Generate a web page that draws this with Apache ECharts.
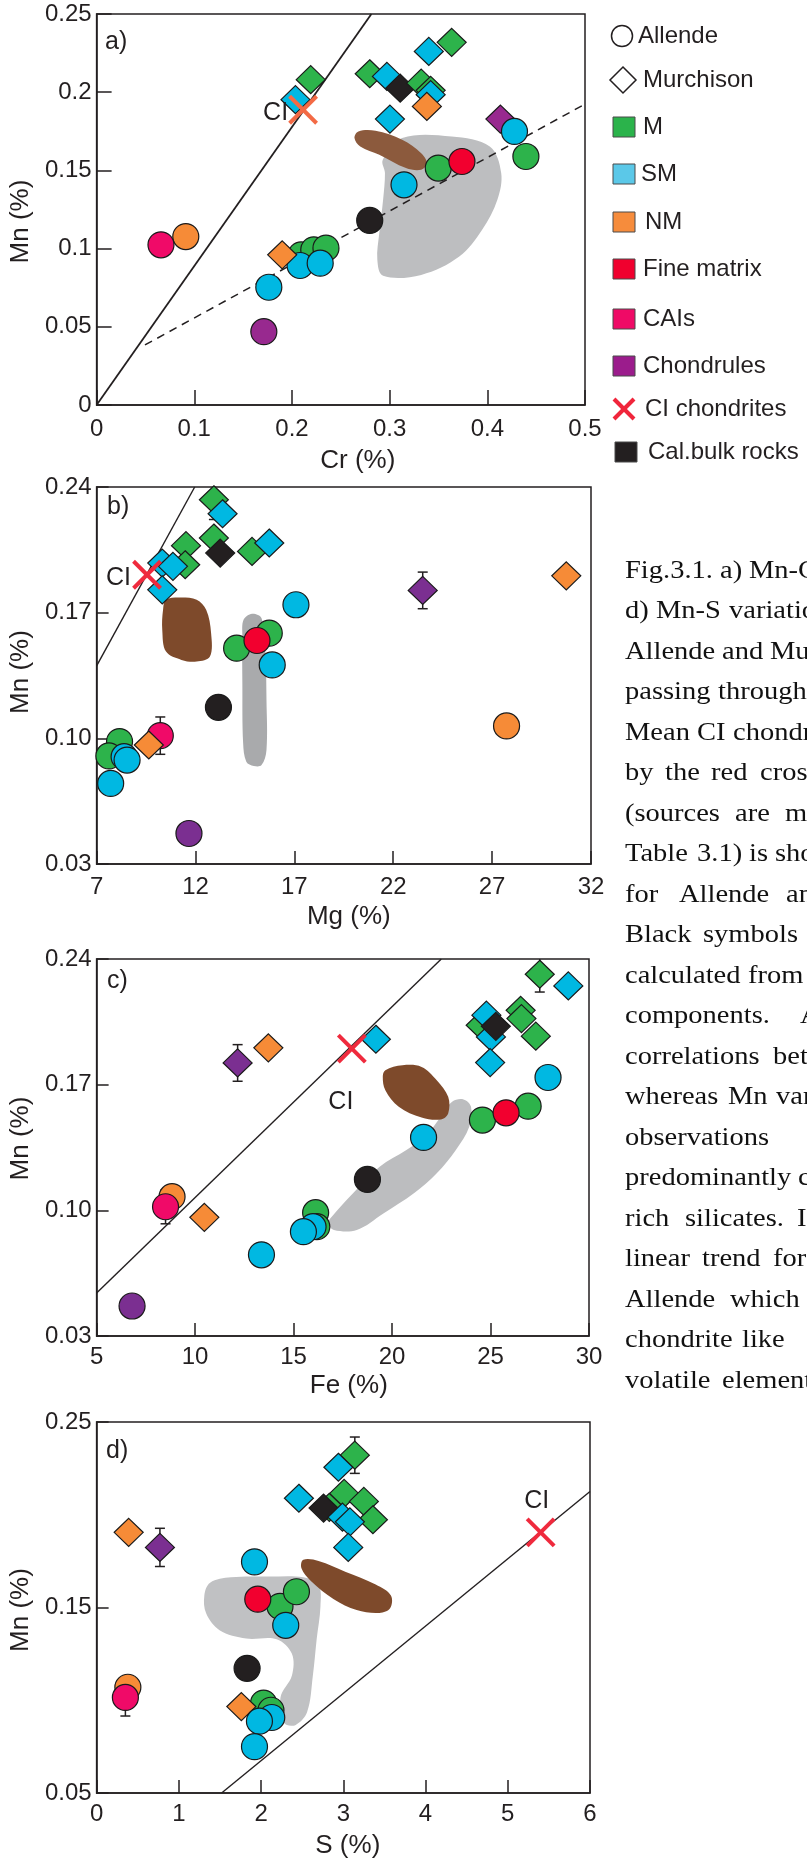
<!DOCTYPE html>
<html>
<head>
<meta charset="utf-8">
<script src="https://cdn.jsdelivr.net/npm/echarts@6/dist/echarts.min.js"></script>
<style>
  html, body { margin: 0; padding: 0; background: #ffffff; }
  #chart { width: 807px; height: 1861px; }
</style>
</head>
<body>
<div id="chart"></div>
<script>
// Point records: [meteorite, component, x, Mn %]
// meteorite: 'A' = Allende (circle), 'Mu' = Murchison (diamond)
// component: M, SM, NM, FM (fine matrix), CAI, CH (chondrules), BULK (calculated bulk rock)

const crMn = [
  ['Mu','SM',0.2036,0.1952], ['Mu','M',0.2192,0.2080], ['Mu','M',0.2796,0.2118],
  ['Mu','SM',0.2972,0.2101], ['Mu','BULK',0.3108,0.2026], ['Mu','M',0.3323,0.2058],
  ['Mu','M',0.3420,0.2012], ['Mu','SM',0.3420,0.1984], ['Mu','NM',0.3381,0.1909],
  ['Mu','SM',0.3401,0.2261], ['Mu','M',0.3635,0.2319], ['Mu','SM',0.3003,0.1828],
  ['Mu','CH',0.4134,0.1828],
  ['A','NM',0.0913,0.1077], ['A','CAI',0.0659,0.1024],
  ['A','M',0.2094,0.0960], ['A','M',0.2223,0.0992], ['A','M',0.2348,0.1003],
  ['A','SM',0.2083,0.0892], ['A','SM',0.2289,0.0907], ['Mu','NM',0.1900,0.0960],
  ['A','SM',0.1763,0.0753], ['A','CH',0.1712,0.0469], ['A','BULK',0.2796,0.1180],
  ['A','SM',0.3147,0.1408], ['A','M',0.3498,0.1515], ['A','FM',0.3740,0.1557],
  ['A','SM',0.4278,0.1749], ['A','M',0.4395,0.1589]
];

const mgMn = [
  ['Mu','M',12.93,0.2329], ['Mu','SM',13.37,0.2251], ['Mu','M',11.52,0.2073],
  ['Mu','M',12.93,0.2116], ['Mu','BULK',13.25,0.2032], ['Mu','M',14.86,0.2041],
  ['Mu','SM',15.73,0.2088], ['Mu','M',11.48,0.1967], ['Mu','SM',10.32,0.1976],
  ['Mu','SM',10.86,0.1958], ['Mu','SM',10.32,0.1827], ['Mu','CH',23.49,0.1824],
  ['Mu','NM',30.75,0.1905],
  ['A','SM',17.08,0.1744], ['A','M',15.73,0.1586], ['A','M',14.08,0.1502],
  ['A','FM',15.11,0.1545], ['A','SM',15.88,0.1409], ['A','BULK',13.16,0.1173],
  ['A','NM',27.73,0.1069], ['A','M',8.16,0.0982], ['A','M',7.62,0.0902],
  ['A','SM',8.39,0.0898], ['A','SM',8.54,0.0879], ['A','CAI',10.22,0.1015],
  ['Mu','NM',9.64,0.0963], ['A','SM',7.71,0.0749], ['A','CH',11.67,0.0470]
];

const feMn = [
  ['Mu','M',27.50,0.2315], ['Mu','SM',28.95,0.2250], ['Mu','M',24.50,0.2031],
  ['Mu','SM',24.79,0.2087], ['Mu','SM',25.02,0.1966], ['Mu','BULK',25.27,0.2025],
  ['Mu','M',26.53,0.2114], ['Mu','M',26.57,0.2068], ['Mu','M',27.30,0.1970],
  ['Mu','SM',24.98,0.1823], ['Mu','SM',19.18,0.1953], ['Mu','NM',13.72,0.1905],
  ['Mu','CH',12.16,0.1821],
  ['A','SM',27.92,0.1740], ['A','M',26.91,0.1580], ['A','M',24.59,0.1503],
  ['A','FM',25.79,0.1543], ['A','SM',21.60,0.1406], ['A','BULK',18.75,0.1172],
  ['A','NM',8.83,0.1076], ['A','CAI',8.50,0.1020], ['Mu','NM',10.47,0.0961],
  ['A','M',16.12,0.0987], ['A','M',16.18,0.0909], ['A','SM',15.99,0.0909],
  ['A','SM',15.50,0.0881], ['A','SM',13.37,0.0752], ['A','CH',6.80,0.0467]
];

const sMn = [
  ['Mu','M',3.14,0.2321], ['Mu','SM',2.94,0.2256], ['Mu','SM',2.46,0.2089],
  ['Mu','M',2.83,0.2040], ['Mu','BULK',2.76,0.2036], ['Mu','M',3.01,0.2115],
  ['Mu','M',3.25,0.2072], ['Mu','M',3.36,0.1973], ['Mu','SM',2.99,0.1987],
  ['Mu','SM',3.08,0.1962], ['Mu','SM',3.06,0.1824], ['Mu','NM',0.39,0.1905],
  ['Mu','CH',0.77,0.1824],
  ['A','SM',1.92,0.1746], ['A','M',2.23,0.1506], ['A','FM',1.96,0.1545],
  ['A','M',2.43,0.1585], ['A','SM',2.30,0.1404], ['A','BULK',1.83,0.1172],
  ['A','NM',0.38,0.1070], ['A','CAI',0.35,0.1015], ['A','M',2.03,0.0985],
  ['A','M',2.12,0.0946], ['Mu','NM',1.76,0.0966], ['A','SM',2.13,0.0907],
  ['A','SM',1.98,0.0887], ['A','SM',1.92,0.0750]
];

// Error bars: [x, Mn, half-range]
const mgErr = [[12.93,0.2329,0.0110], [23.49,0.1824,0.0102], [10.22,0.1015,0.0104]];
const feErr = [[27.50,0.2315,0.0099], [12.16,0.1821,0.0102], [8.50,0.1020,0.0095]];
const sErr  = [[3.14,0.2321,0.0098], [0.77,0.1824,0.0103], [0.35,0.1015,0.0100]];

// Mean CI chondrite
const ciCr = [0.2114, 0.1888];
const ciMg = [9.55, 0.1911];
const ciFe = [17.96, 0.1901];
const ciS  = [5.40, 0.1905];

// Reference lines (end points)
const crSolid  = [[0, 0], [0.2813, 0.25]];
const crDashed = [[0.0495, 0.0384], [0.5, 0.1924]];
const mgSolid  = [[7, 0.1404], [11.96, 0.24]];
const feSolid  = [[5, 0.054], [22.5, 0.24]];
const sSolid   = [[1.52, 0.05], [6, 0.2125]];

// Field outlines (grey and brown areas)
const crGray = [[0.293,0.1568],[0.3128,0.1707],[0.3635,0.1717],[0.4025,0.1653],[0.4142,0.1483],
  [0.4103,0.1312],[0.3947,0.112],[0.3713,0.0949],[0.3323,0.0832],[0.2933,0.0826],[0.2874,0.0928],
  [0.2894,0.1099],[0.2933,0.1312],[0.2952,0.1483]];
const crBrown = [[0.268,0.1749],[0.2855,0.1753],[0.3128,0.1696],[0.3323,0.161],[0.3381,0.1547],
  [0.3323,0.1504],[0.3167,0.1515],[0.2894,0.16],[0.2699,0.1653],[0.264,0.1707]];
const mgGray = [[14.43,0.166],[14.86,0.1694],[15.34,0.1669],[15.53,0.1493],[15.59,0.1214],
  [15.59,0.0935],[15.34,0.0851],[14.95,0.0846],[14.57,0.087],[14.41,0.0972],[14.37,0.1307],[14.37,0.1567]];
const mgBrown = [[10.51,0.1772],[11.29,0.1785],[12.06,0.1772],[12.54,0.1716],[12.79,0.1586],
  [12.73,0.1456],[12.06,0.1428],[11.29,0.1437],[10.51,0.1483],[10.32,0.1604],[10.36,0.1716]];
const feGray = [[16.95,0.0965],[18.02,0.1095],[19.37,0.1243],[20.73,0.1336],[21.69,0.141],
  [22.47,0.1521],[23.05,0.1605],[23.63,0.1618],[24.01,0.1577],[23.92,0.1465],[23.24,0.1336],
  [22.27,0.1206],[21.11,0.1095],[19.56,0.0983],[18.21,0.0891],[17.05,0.0891],[16.76,0.0928]];
const feBrown = [[19.66,0.1781],[20.53,0.1808],[21.5,0.1799],[22.27,0.1725],[22.85,0.1632],
  [22.85,0.154],[22.47,0.1506],[21.5,0.1517],[20.34,0.1577],[19.66,0.1669],[19.53,0.1744]];
const sGray = [[1.31,0.1565],[1.38,0.1634],[1.634,0.1663],[2.097,0.1667],[2.514,0.1663],
  [2.699,0.1624],[2.722,0.1506],[2.676,0.1329],[2.63,0.1133],[2.56,0.0936],[2.421,0.0867],
  [2.282,0.0877],[2.236,0.1015],[2.375,0.1133],[2.375,0.1251],[2.19,0.1329],[1.819,0.1333],
  [1.495,0.1378],[1.333,0.1467]];
const sBrown = [[2.514,0.1757],[2.699,0.1751],[3.023,0.1693],[3.394,0.1624],[3.579,0.1565],
  [3.569,0.1496],[3.44,0.1471],[3.162,0.1486],[2.884,0.1545],[2.606,0.1643],[2.491,0.1712]];

// Axis scales
const crTicks = {min: 0, max: 0.5, interval: 0.1};
const mgTicks = {min: 7, max: 32, interval: 5};
const feTicks = {min: 5, max: 30, interval: 5};
const sTicks  = {min: 0, max: 6, interval: 1};
const mnTicksA = {min: 0, max: 0.25, interval: 0.05};
const mnTicksBC = {min: 0.03, max: 0.24, interval: 0.07};
const mnTicksD = {min: 0.05, max: 0.25, interval: 0.1};

const INK = '#231f20';
const SANS = '"Liberation Sans", Arial, sans-serif';
const SERIF = '"Liberation Serif", "Times New Roman", serif';

const COLORS = {M: '#2db34b', SM: '#00b8e2', NM: '#f68b37', FM: '#f2002f', CAI: '#f00a68', CH: '#7b2f91', BULK: '#231f20'};

const panels = [
  { tag: 'a)', pts: crMn, err: [], ci: ciCr, ciColor: '#f36a45', gray: crGray, grayColor: '#bdbec0',
    brown: crBrown, brownColor: '#8c5a3d', lines: [{d: crSolid, w: 1.8}, {d: crDashed, w: 1.5, dash: true}],
    xs: crTicks, ys: mnTicksA, xName: 'Cr (%)', yFmt: null, chColor: '#98298f',
    grid: {left: 95, top: 14, width: 490, height: 391}, tagPos: [105, 42],
    xNameGap: 43, xNamePad: 34, yNamePad: [0, 24, 0, 0], xLabelMargin: 12, ciLabel: {dx: -15, dy: 3, align: 'right'} },
  { tag: 'b)', pts: mgMn, err: mgErr, ci: ciMg, ciColor: '#ef2a3d', gray: mgGray, grayColor: '#a9aaac',
    brown: mgBrown, brownColor: '#7e4a2b', lines: [{d: mgSolid, w: 1.4}],
    xs: mgTicks, ys: mnTicksBC, xName: 'Mg (%)', yFmt: 2, chColor: COLORS.CH,
    grid: {left: 95, top: 487, width: 496, height: 377}, tagPos: [107, 507],
    xNameGap: 40, xNamePad: 10, yNamePad: [0, 0, 0, 7], xLabelMargin: 11, ciLabel: {dx: -16, dy: 3, align: 'right'} },
  { tag: 'c)', pts: feMn, err: feErr, ci: ciFe, ciColor: '#ef2a3d', gray: feGray, grayColor: '#bcbdbf',
    brown: feBrown, brownColor: '#7e4a2b', lines: [{d: feSolid, w: 1.4}],
    xs: feTicks, ys: mnTicksBC, xName: 'Fe (%)', yFmt: 2, chColor: COLORS.CH,
    grid: {left: 95, top: 959, width: 494, height: 377}, tagPos: [107, 981],
    xNameGap: 37, xNamePad: 12, yNamePad: [0, 0, 0, 18], xLabelMargin: 9, ciLabel: {dx: -11, dy: 54, align: 'center'} },
  { tag: 'd)', pts: sMn, err: sErr, ci: ciS, ciColor: '#ef2a3d', gray: sGray, grayColor: '#c0c1c3',
    brown: sBrown, brownColor: '#7e4a2b', lines: [{d: sSolid, w: 1.4}],
    xs: sTicks, ys: mnTicksD, xName: 'S (%)', yFmt: 2, chColor: COLORS.CH,
    grid: {left: 95, top: 1422, width: 495, height: 371}, tagPos: [106, 1451],
    xNameGap: 40, xNamePad: 9, yNamePad: [0, 5, 0, 0], xLabelMargin: 9, ciLabel: {dx: -4, dy: -31, align: 'center'} }
];

const grids = [], xAxes = [], yAxes = [], series = [], graphics = [];

panels.forEach((p, i) => {
  grids.push(Object.assign({show: true, borderColor: INK, borderWidth: 1.5, backgroundColor: 'transparent'}, p.grid));

  const axisLine = {onZero: false, lineStyle: {color: INK, width: 1.5}};
  xAxes.push({
    gridIndex: i, type: 'value', min: p.xs.min, max: p.xs.max, interval: p.xs.interval,
    name: p.xName, nameLocation: 'middle', nameGap: p.xNameGap,
    nameTextStyle: {fontFamily: SANS, fontSize: 26, color: INK, padding: [0, 0, 0, p.xNamePad]},
    axisLine, splitLine: {show: false},
    axisTick: {inside: true, length: i === 0 ? 15 : 13, lineStyle: {color: INK, width: 1.5}},
    axisLabel: {fontFamily: SANS, fontSize: 24, color: INK, margin: p.xLabelMargin,
      showMinLabel: true, showMaxLabel: true}
  });
  yAxes.push({
    gridIndex: i, type: 'value', min: p.ys.min, max: p.ys.max, interval: p.ys.interval,
    name: 'Mn (%)', nameLocation: 'middle', nameGap: 56,
    nameTextStyle: {fontFamily: SANS, fontSize: 26, color: INK, padding: p.yNamePad},
    axisLine, splitLine: {show: false},
    axisTick: {inside: true, length: i === 0 ? 15 : 12, lineStyle: {color: INK, width: 1.5}},
    axisLabel: {fontFamily: SANS, fontSize: 24, color: INK, margin: 5, padding: [10, 0, 0, 0],
      showMinLabel: true, showMaxLabel: true,
      formatter: p.yFmt ? (v => v.toFixed(p.yFmt)) : null}
  });

  // shaded fields
  [[p.gray, p.grayColor, 1], [p.brown, p.brownColor, 2]].forEach(([pts, color, z]) => {
    series.push({
      type: 'custom', xAxisIndex: i, yAxisIndex: i, z: z, silent: true, animation: false,
      data: [pts[0]],
      renderItem: (params, api) => ({
        type: 'polygon',
        shape: {points: pts.map(q => api.coord(q)), smooth: 0.35},
        style: {fill: color}
      })
    });
  });

  // reference lines
  p.lines.forEach(l => {
    series.push({
      type: 'line', xAxisIndex: i, yAxisIndex: i, z: 3, silent: true, animation: false,
      data: l.d, showSymbol: false, symbol: 'none',
      lineStyle: {color: INK, width: l.w, type: l.dash ? [8, 6] : 'solid'}
    });
  });

  // error bars
  if (p.err.length) {
    series.push({
      type: 'custom', xAxisIndex: i, yAxisIndex: i, z: 4, silent: true, animation: false, clip: true,
      data: p.err,
      renderItem: (params, api) => {
        const x = api.value(0), y = api.value(1), e = api.value(2);
        const t = api.coord([x, y + e]), b = api.coord([x, y - e]);
        const st = {stroke: INK, lineWidth: 1.5};
        return {type: 'group', children: [
          {type: 'line', shape: {x1: t[0], y1: t[1], x2: b[0], y2: b[1]}, style: st},
          {type: 'line', shape: {x1: t[0] - 5, y1: t[1], x2: t[0] + 5, y2: t[1]}, style: st},
          {type: 'line', shape: {x1: b[0] - 5, y1: b[1], x2: b[0] + 5, y2: b[1]}, style: st}
        ]};
      }
    });
  }

  // components
  series.push({
    type: 'scatter', xAxisIndex: i, yAxisIndex: i, z: 5, silent: true, animation: false,
    data: p.pts.map(([met, grp, x, y]) => ({
      value: [x, y],
      symbol: met === 'A' ? 'circle' : 'diamond',
      symbolSize: met === 'A' ? 26 : [29, 28],
      itemStyle: {
        color: grp === 'CH' ? p.chColor : COLORS[grp],
        borderColor: '#1a1a1a', borderWidth: 1.2, opacity: 1
      }
    }))
  });

  // mean CI chondrite cross
  series.push({
    type: 'custom', xAxisIndex: i, yAxisIndex: i, z: 6, silent: true, animation: false,
    data: [p.ci],
    renderItem: (params, api) => {
      const c = api.coord([api.value(0), api.value(1)]);
      const h = 13.5;
      const st = {stroke: p.ciColor, lineWidth: 4};
      return {type: 'group', children: [
        {type: 'line', shape: {x1: c[0] - h, y1: c[1] - h, x2: c[0] + h, y2: c[1] + h}, style: st},
        {type: 'line', shape: {x1: c[0] - h, y1: c[1] + h, x2: c[0] + h, y2: c[1] - h}, style: st},
        {type: 'text', x: c[0] + p.ciLabel.dx, y: c[1] + p.ciLabel.dy,
          style: {text: 'CI', fill: INK, font: '25px ' + SANS, textAlign: p.ciLabel.align, textVerticalAlign: 'middle'}}
      ]};
    }
  });

  graphics.push({type: 'text', x: p.tagPos[0], y: p.tagPos[1],
    style: {text: p.tag, fill: INK, font: '25px ' + SANS, textAlign: 'left', textVerticalAlign: 'middle'}});
});

// Legend
const legendRows = [
  {kind: 'circle', text: 'Allende', y: 36, tx: 638},
  {kind: 'diamond', text: 'Murchison', y: 80, tx: 643},
  {kind: 'box', color: '#2bb34b', text: 'M', y: 127, tx: 643},
  {kind: 'box', color: '#5bc8e8', text: 'SM', y: 174, tx: 641},
  {kind: 'box', color: '#f68c3c', text: 'NM', y: 222, tx: 645},
  {kind: 'box', color: '#f0002e', text: 'Fine matrix', y: 269, tx: 643},
  {kind: 'box', color: '#ef0a66', text: 'CAIs', y: 319, tx: 643},
  {kind: 'box', color: '#9b1c8c', text: 'Chondrules', y: 366, tx: 643},
  {kind: 'cross', color: '#f0253b', text: 'CI chondrites', y: 409, tx: 645},
  {kind: 'box', color: '#231f20', text: 'Cal.bulk rocks', y: 452, tx: 648, bx: 626}
];
legendRows.forEach(r => {
  const cx = r.bx || 624;
  if (r.kind === 'circle') {
    graphics.push({type: 'circle', shape: {cx: 622, cy: r.y, r: 10.5}, style: {fill: '#fff', stroke: INK, lineWidth: 1.5}});
  } else if (r.kind === 'diamond') {
    graphics.push({type: 'polygon', shape: {points: [[623, r.y - 13], [636, r.y], [623, r.y + 13], [610, r.y]]},
      style: {fill: '#fff', stroke: INK, lineWidth: 1.5}});
  } else if (r.kind === 'box') {
    graphics.push({type: 'rect', shape: {x: cx - 11, y: r.y - 10, width: 22, height: 20},
      style: {fill: r.color, stroke: '#4a4a4a', lineWidth: 1}});
  } else {
    const h = 10;
    graphics.push({type: 'line', shape: {x1: cx - h, y1: r.y - h, x2: cx + h, y2: r.y + h}, style: {stroke: r.color, lineWidth: 4}});
    graphics.push({type: 'line', shape: {x1: cx - h, y1: r.y + h, x2: cx + h, y2: r.y - h}, style: {stroke: r.color, lineWidth: 4}});
  }
  graphics.push({type: 'text', x: r.tx, y: r.y,
    style: {text: r.text, fill: INK, font: '24px ' + SANS, textAlign: 'left', textVerticalAlign: 'middle'}});
});

// Caption column (justified words, cut by the page edge)
const captionLines = [
  [['Fig.3.1.', 625], ['a)', 720], ['Mn-Cr,', 749]],
  [['d)', 625], ['Mn-S', 656], ['variations', 729]],
  [['Allende', 625], ['and', 722], ['Murchison.', 770]],
  [['passing', 625], ['through', 718]],
  [['Mean', 625], ['CI', 697], ['chondrite', 733]],
  [['by', 625], ['the', 665], ['red', 711], ['cross', 760]],
  [['(sources', 625], ['are', 735], ['mentioned', 785]],
  [['Table', 625], ['3.1)', 697], ['is', 749], ['shown', 775]],
  [['for', 625], ['Allende', 679], ['and', 786]],
  [['Black', 625], ['symbols', 703]],
  [['calculated', 625], ['from', 748]],
  [['components.', 625], ['A', 800]],
  [['correlations', 625], ['between', 773]],
  [['whereas', 625], ['Mn', 728], ['variations', 776]],
  [['observations', 625]],
  [['predominantly', 625], ['c', 798]],
  [['rich', 625], ['silicates.', 685], ['I', 797]],
  [['linear', 625], ['trend', 702], ['for', 773]],
  [['Allende', 625], ['which', 730]],
  [['chondrite', 625], ['like', 742]],
  [['volatile', 625], ['elements', 722]]
];
captionLines.forEach((line, k) => {
  line.forEach(([w, x]) => {
    graphics.push({type: 'text', x: x, y: 571 + 40.5 * k, scaleX: 1.14,
      style: {text: w, fill: '#111', font: '25px ' + SERIF, textAlign: 'left', textVerticalAlign: 'middle'}});
  });
});

const chart = echarts.init(document.getElementById('chart'), null, {renderer: 'canvas', width: 807, height: 1861});
chart.setOption({
  animation: false,
  backgroundColor: '#ffffff',
  grid: grids,
  xAxis: xAxes,
  yAxis: yAxes,
  series: series,
  graphic: graphics
});
</script>
</body>
</html>
